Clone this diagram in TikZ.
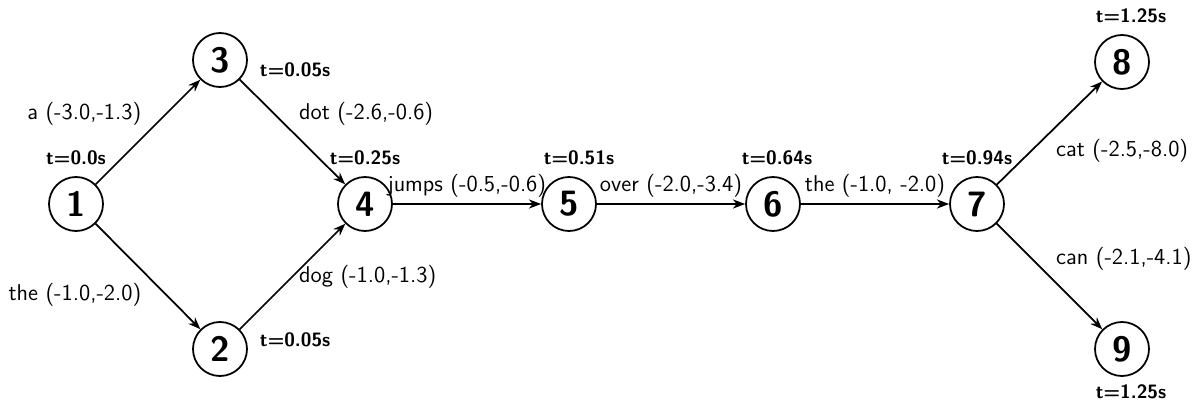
\documentclass[tikz,border=0pt]{standalone}
\usepackage{tikz}
\usetikzlibrary{arrows.meta,positioning}

\begin{document}
\begin{tikzpicture}[
  every node/.style={font=\sffamily},
  state/.style={circle, draw, line width=1pt, minimum size=1.08cm,
                inner sep=0pt, font=\sffamily\bfseries\fontsize{20}{22}\selectfont},
  tlbl/.style={font=\sffamily\bfseries\fontsize{11}{13}\selectfont, inner sep=1pt},
  elbl/.style={font=\sffamily\fontsize{13}{15}\selectfont},
  arc/.style={-{Stealth[length=7pt]}, line width=1pt},
]

\useasboundingbox (0,-4.06) rectangle (23.98,4.08);

%% Lattice states
\node[state] (n1) at (1.52, 0) {1};
\node[state] (n3) at (4.40, 2.88) {3};
\node[state] (n2) at (4.40, -2.90) {2};
\node[state] (n4) at (7.30, 0) {4};
\node[state] (n5) at (11.38, 0) {5};
\node[state] (n6) at (15.46, 0) {6};
\node[state] (n7) at (19.54, 0) {7};
\node[state] (n8) at (22.44, 2.84) {8};
\node[state] (n9) at (22.44, -2.90) {9};

%% Times
\node[tlbl, above=0.18cm of n1] (t1) {t=0.0s};
\node[tlbl, right=0.2cm of n3, yshift=-0.2cm] (t3) {t=0.05s};
\node[tlbl, right=0.2cm of n2, yshift=0.18cm] (t2) {t=0.05s};
\node[tlbl, above=0.18cm of n4] (t4) {t=0.25s};
\node[tlbl, above=0.18cm of n5, xshift=0.2cm] (t5) {t=0.51s};
\node[tlbl, above=0.18cm of n6, xshift=0.08cm] (t6) {t=0.64s};
\node[tlbl, above=0.18cm of n7] (t7) {t=0.94s};
\node[tlbl, above=0.18cm of n8, xshift=0.18cm] (t8) {t=1.25s};
\node[tlbl, below=0.12cm of n9, xshift=0.18cm] (t9) {t=1.25s};

%% Arcs with word scores
\draw[arc] (n1) -- node[elbl, above left] {a (-3.0,-1.3)} (n3);
\draw[arc] (n1) -- node[elbl, below left] {the (-1.0,-2.0)} (n2);
\draw[arc] (n3) -- node[elbl, above right] {dot (-2.6,-0.6)} (n4);
\draw[arc] (n2) -- node[elbl, right] {dog (-1.0,-1.3)} (n4);
\draw[arc] (n4) -- node[elbl, above] {jumps (-0.5,-0.6)} (n5);
\draw[arc] (n5) -- node[elbl, above] {over (-2.0,-3.4)} (n6);
\draw[arc] (n6) -- node[elbl, above] {the (-1.0, -2.0)} (n7);
\draw[arc] (n7) -- node[elbl, below right] {cat (-2.5,-8.0)} (n8);
\draw[arc] (n7) -- node[elbl, above right] {can (-2.1,-4.1)} (n9);

\end{tikzpicture}
\end{document}
